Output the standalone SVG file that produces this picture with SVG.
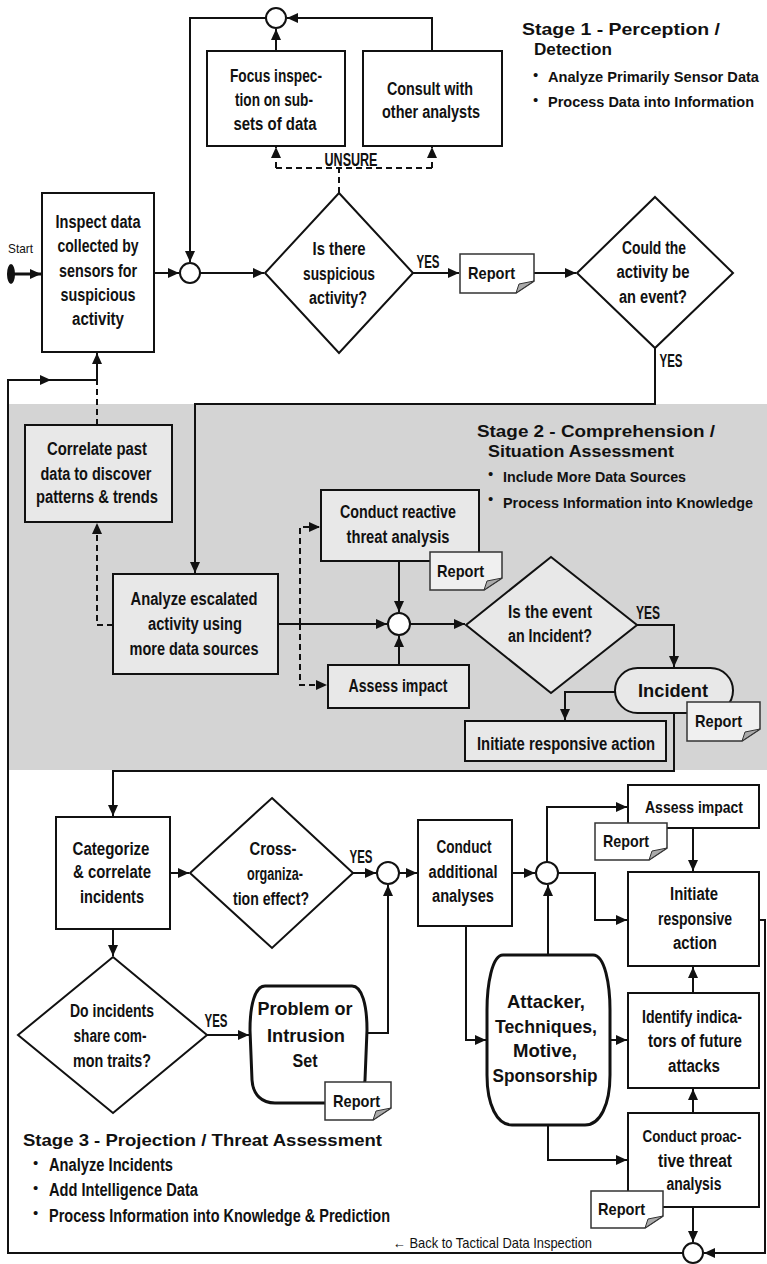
<svg xmlns="http://www.w3.org/2000/svg" width="767" height="1264" viewBox="0 0 767 1264">
<style>
.t{font-family:"Liberation Sans",Arial,sans-serif;font-size:18px;font-weight:bold;text-anchor:middle;fill:#111}
.tm{font-family:"Liberation Sans",Arial,sans-serif;font-size:16px;font-weight:bold;text-anchor:middle;fill:#111}
.ts{font-family:"Liberation Sans",Arial,sans-serif;font-size:18px;font-weight:bold;text-anchor:start;fill:#111}
.tn{font-family:"Liberation Sans",Arial,sans-serif;font-size:15px;font-weight:bold;text-anchor:start;fill:#111}
.tb{font-family:"Liberation Sans",Arial,sans-serif;font-size:19px;font-weight:bold;text-anchor:middle;fill:#111}
.h{font-family:"Liberation Sans",Arial,sans-serif;font-size:17px;font-weight:bold;text-anchor:start;fill:#111}
.r{font-family:"Liberation Sans",Arial,sans-serif;font-size:17px;font-weight:bold;text-anchor:start;fill:#111}
.bu{font-family:"Liberation Sans",Arial,sans-serif;font-size:15px;text-anchor:start;fill:#111}
.sm{font-family:"Liberation Sans",Arial,sans-serif;font-size:13px;text-anchor:start;fill:#111}
.bk{font-family:"Liberation Sans",Arial,sans-serif;font-size:15px;text-anchor:start;fill:#111}
.n{fill:#fff;stroke:#111;stroke-width:2}
.g{fill:#e8e8e8;stroke:#111;stroke-width:2}
.k{fill:#fff;stroke:#111;stroke-width:3}
.doc{fill:#fff;stroke:#333;stroke-width:1.5}
.docg{fill:#f0f0f0;stroke:#333;stroke-width:1.5}
.fold{fill:#aaa;stroke:#333;stroke-width:1}
.c{fill:none;stroke:#111;stroke-width:2}
.d{stroke-dasharray:6 4}
</style>
<defs>
<marker id="ah" viewBox="0 0 11 10" refX="11" refY="5" markerWidth="11" markerHeight="10" markerUnits="userSpaceOnUse" orient="auto">
<path d="M0,0 L11,5 L0,10 Z" fill="#111"/>
</marker>
</defs>

<rect x="9" y="404" width="758" height="366" fill="#d4d4d4"/>

<g id="connectors">
<ellipse cx="11" cy="274" rx="4" ry="10" fill="#111"/>
<path class="c" style="stroke-width:3" d="M13,274 H41" marker-end="url(#ah)"/>
<path class="c" d="M154,273 H179" marker-end="url(#ah)"/>
<path class="c" d="M200,273 H264" marker-end="url(#ah)"/>
<path class="c" d="M413,273 H459" marker-end="url(#ah)"/>
<path class="c" d="M534,273 H576" marker-end="url(#ah)"/>
<path class="c" d="M655,348 V404 H195 V573" marker-end="url(#ah)"/>
<path class="c d" d="M339,193 V168"/>
<path class="c d" d="M276,168 H432"/>
<path class="c d" d="M276,168 V147" marker-end="url(#ah)"/>
<path class="c d" d="M432,168 V147" marker-end="url(#ah)"/>
<path class="c" d="M276,51 V29" marker-end="url(#ah)"/>
<path class="c" d="M432,51 V18 H287" marker-end="url(#ah)"/>
<path class="c" d="M266,18 H190 V262" marker-end="url(#ah)"/>
<path class="c" d="M683,1253 H8 V380 H51" marker-end="url(#ah)"/>
<path class="c" d="M51,380 H97 V353" marker-end="url(#ah)"/>
<path class="c d" d="M97,425 V380"/>
<path class="c d" d="M113,625 H97 V523" marker-end="url(#ah)"/>
<path class="c" d="M278,624 H387" marker-end="url(#ah)"/>
<path class="c d" d="M300,624 V527 H320" marker-end="url(#ah)"/>
<path class="c d" d="M300,624 V685 H327" marker-end="url(#ah)"/>
<path class="c" d="M399,561 V612" marker-end="url(#ah)"/>
<path class="c" d="M399,665 V636" marker-end="url(#ah)"/>
<path class="c" d="M410,624 H465" marker-end="url(#ah)"/>
<path class="c" d="M637,625 H674 V667" marker-end="url(#ah)"/>
<path class="c" d="M615,692 H565 V720" marker-end="url(#ah)"/>
<path class="c" d="M674,713 V771 H113 V816" marker-end="url(#ah)"/>
<path class="c" d="M170,873 H189" marker-end="url(#ah)"/>
<path class="c" d="M353,873 H376" marker-end="url(#ah)"/>
<path class="c" d="M113,929 V956" marker-end="url(#ah)"/>
<path class="c" d="M207,1035 H249" marker-end="url(#ah)"/>
<path class="c" d="M366,1033 H388 V885" marker-end="url(#ah)"/>
<path class="c" d="M399,873 H417" marker-end="url(#ah)"/>
<path class="c" d="M512,873 H535" marker-end="url(#ah)"/>
<path class="c" d="M547,862 V807 H627" marker-end="url(#ah)"/>
<path class="c" d="M558,873 H595 V920 H627" marker-end="url(#ah)"/>
<path class="c" d="M693,828 V871" marker-end="url(#ah)"/>
<path class="c" d="M693,993 V967" marker-end="url(#ah)"/>
<path class="c" d="M693,1113 V1089" marker-end="url(#ah)"/>
<path class="c" d="M466,926 V1040 H486" marker-end="url(#ah)"/>
<path class="c" d="M548,955 V885" marker-end="url(#ah)"/>
<path class="c" d="M610,1040 H627" marker-end="url(#ah)"/>
<path class="c" d="M548,1125 V1160 H627" marker-end="url(#ah)"/>
<path class="c" d="M693,1207 V1242" marker-end="url(#ah)"/>
<path class="c" d="M759,920 H765 V1253 H704" marker-end="url(#ah)"/>
</g>

<g id="start"><text class="sm" x="8" y="253" textLength="25" lengthAdjust="spacingAndGlyphs">Start</text></g>

<g id="j1"><circle class="n" cx="276" cy="18" r="10"/></g>
<g id="j2"><circle class="n" cx="190" cy="273" r="10"/></g>
<g id="j3"><circle class="n" cx="399" cy="624" r="11"/></g>
<g id="j4"><circle class="n" cx="388" cy="873" r="11"/></g>
<g id="j5"><circle class="n" cx="547" cy="873" r="11"/></g>
<g id="j6"><circle class="n" cx="693" cy="1253" r="10"/></g>

<g id="focus"><rect class="n" x="207" y="51" width="138" height="95"/>
<text class="t" x="276" y="82" textLength="92" lengthAdjust="spacingAndGlyphs">Focus inspec-</text>
<text class="t" x="274" y="106" textLength="78" lengthAdjust="spacingAndGlyphs">tion on sub-</text>
<text class="t" x="275" y="130" textLength="83" lengthAdjust="spacingAndGlyphs">sets of data</text></g>

<g id="consult"><rect class="n" x="363" y="51" width="139" height="95"/>
<text class="t" x="430" y="95" textLength="86" lengthAdjust="spacingAndGlyphs">Consult with</text>
<text class="t" x="431" y="118" textLength="98" lengthAdjust="spacingAndGlyphs">other analysts</text></g>

<g id="unsure"><text class="t" x="351" y="166" textLength="53" lengthAdjust="spacingAndGlyphs">UNSURE</text></g>

<g id="stage1">
<text class="h" x="522" y="35" textLength="198" lengthAdjust="spacingAndGlyphs">Stage 1 -  Perception /</text>
<text class="h" x="534" y="55" textLength="78" lengthAdjust="spacingAndGlyphs">Detection</text>
<text class="bu" x="533" y="80">•</text>
<text class="tn" x="548" y="82" textLength="211" lengthAdjust="spacingAndGlyphs">Analyze Primarily Sensor Data</text>
<text class="bu" x="533" y="105">•</text>
<text class="tn" x="548" y="107" textLength="206" lengthAdjust="spacingAndGlyphs">Process Data into Information</text>
</g>

<g id="inspect"><rect class="n" x="42" y="193" width="112" height="159"/>
<text class="t" x="98" y="228" textLength="85" lengthAdjust="spacingAndGlyphs">Inspect data</text>
<text class="t" x="98" y="252" textLength="81" lengthAdjust="spacingAndGlyphs">collected by</text>
<text class="t" x="98" y="277" textLength="78" lengthAdjust="spacingAndGlyphs">sensors for</text>
<text class="t" x="98" y="301" textLength="75" lengthAdjust="spacingAndGlyphs">suspicious</text>
<text class="t" x="98" y="325" textLength="52" lengthAdjust="spacingAndGlyphs">activity</text></g>

<g id="dec1"><polygon class="n" points="339,193 413,273 339,353 265,273"/>
<text class="t" x="339" y="255" textLength="53" lengthAdjust="spacingAndGlyphs">Is there</text>
<text class="t" x="339" y="280" textLength="72" lengthAdjust="spacingAndGlyphs">suspicious</text>
<text class="t" x="338" y="304" textLength="58" lengthAdjust="spacingAndGlyphs">activity?</text>
<text class="t" x="428" y="268" textLength="23" lengthAdjust="spacingAndGlyphs">YES</text></g>

<g id="report1"><path class="doc" d="M460,254 H534 V281 L516,293 H460 Z"/><path class="fold" d="M534,281 L516,293 L519,284 Z"/>
<text class="r" x="468" y="279" textLength="47" lengthAdjust="spacingAndGlyphs">Report</text></g>

<g id="dec2"><polygon class="n" points="655,197 733,273 655,348 577,273"/>
<text class="t" x="654" y="254" textLength="64" lengthAdjust="spacingAndGlyphs">Could the</text>
<text class="t" x="653" y="278" textLength="73" lengthAdjust="spacingAndGlyphs">activity be</text>
<text class="t" x="653" y="303" textLength="68" lengthAdjust="spacingAndGlyphs">an event?</text>
<text class="t" x="671" y="367" textLength="23" lengthAdjust="spacingAndGlyphs">YES</text></g>

<g id="stage2">
<text class="h" x="477" y="437" textLength="238" lengthAdjust="spacingAndGlyphs">Stage 2 -  Comprehension /</text>
<text class="h" x="488" y="457" textLength="186" lengthAdjust="spacingAndGlyphs">Situation Assessment</text>
<text class="bu" x="488" y="479">•</text>
<text class="tn" x="503" y="482" textLength="183" lengthAdjust="spacingAndGlyphs">Include More Data Sources</text>
<text class="bu" x="488" y="504">•</text>
<text class="tn" x="503" y="508" textLength="250" lengthAdjust="spacingAndGlyphs">Process Information into Knowledge</text>
</g>

<g id="correlate"><rect class="g" x="25" y="425" width="147" height="97"/>
<text class="t" x="97" y="455" textLength="100" lengthAdjust="spacingAndGlyphs">Correlate past</text>
<text class="t" x="96" y="480" textLength="111" lengthAdjust="spacingAndGlyphs">data to discover</text>
<text class="t" x="97" y="503" textLength="122" lengthAdjust="spacingAndGlyphs">patterns &amp; trends</text></g>

<g id="analyze"><rect class="g" x="113" y="574" width="165" height="100"/>
<text class="t" x="194" y="605" textLength="127" lengthAdjust="spacingAndGlyphs">Analyze escalated</text>
<text class="t" x="195" y="630" textLength="94" lengthAdjust="spacingAndGlyphs">activity using</text>
<text class="t" x="194" y="655" textLength="129" lengthAdjust="spacingAndGlyphs">more data sources</text></g>

<g id="reactive"><rect class="g" x="321" y="490" width="158" height="71"/>
<text class="t" x="398" y="518" textLength="116" lengthAdjust="spacingAndGlyphs">Conduct reactive</text>
<text class="t" x="398" y="543" textLength="103" lengthAdjust="spacingAndGlyphs">threat analysis</text></g>

<g id="report2"><path class="docg" d="M430,552 H502 V578 L484,590 H430 Z"/><path class="fold" d="M502,578 L484,590 L487,581 Z"/>
<text class="r" x="437" y="577" textLength="47" lengthAdjust="spacingAndGlyphs">Report</text></g>

<g id="assess2"><rect class="g" x="328" y="665" width="141" height="43"/>
<text class="t" x="398" y="692" textLength="99" lengthAdjust="spacingAndGlyphs">Assess impact</text></g>

<g id="dec3"><polygon class="g" points="551,557 637,625 551,693 466,625"/>
<text class="t" x="550" y="618" textLength="84" lengthAdjust="spacingAndGlyphs">Is the event</text>
<text class="t" x="550" y="642" textLength="84" lengthAdjust="spacingAndGlyphs">an Incident?</text>
<text class="t" x="648" y="619" textLength="24" lengthAdjust="spacingAndGlyphs">YES</text></g>

<g id="incident"><rect class="g" x="615" y="668" width="118" height="45" rx="22.5" ry="22.5"/>
<text class="tb" x="673" y="697" textLength="70" lengthAdjust="spacingAndGlyphs">Incident</text></g>

<g id="report3"><path class="docg" d="M687,702 H760 V729 L742,741 H687 Z"/><path class="fold" d="M760,729 L742,741 L745,732 Z"/>
<text class="r" x="695" y="727" textLength="47" lengthAdjust="spacingAndGlyphs">Report</text></g>

<g id="initiate2"><rect class="g" x="465" y="721" width="201" height="40"/>
<text class="t" x="566" y="750" textLength="178" lengthAdjust="spacingAndGlyphs">Initiate responsive action</text></g>

<g id="categorize"><rect class="n" x="56" y="817" width="114" height="112"/>
<text class="t" x="111" y="855" textLength="77" lengthAdjust="spacingAndGlyphs">Categorize</text>
<text class="t" x="112" y="878" textLength="78" lengthAdjust="spacingAndGlyphs">&amp; correlate</text>
<text class="t" x="112" y="903" textLength="64" lengthAdjust="spacingAndGlyphs">incidents</text></g>

<g id="cross"><polygon class="n" points="272,798 353,873 272,948 190,873"/>
<text class="t" x="273" y="855" textLength="47" lengthAdjust="spacingAndGlyphs">Cross-</text>
<text class="t" x="275" y="880" textLength="56" lengthAdjust="spacingAndGlyphs">organiza-</text>
<text class="t" x="271" y="905" textLength="76" lengthAdjust="spacingAndGlyphs">tion effect?</text>
<text class="t" x="361" y="863" textLength="23" lengthAdjust="spacingAndGlyphs">YES</text></g>

<g id="traits"><polygon class="n" points="113,957 207,1035 113,1113 18,1035"/>
<text class="t" x="112" y="1017" textLength="84" lengthAdjust="spacingAndGlyphs">Do incidents</text>
<text class="t" x="110" y="1042" textLength="73" lengthAdjust="spacingAndGlyphs">share com-</text>
<text class="t" x="112" y="1067" textLength="78" lengthAdjust="spacingAndGlyphs">mon traits?</text>
<text class="t" x="216" y="1027" textLength="23" lengthAdjust="spacingAndGlyphs">YES</text></g>

<g id="problem"><path class="k" d="M265,986 H352 C362,986 367,1005 367,1030 L365,1080 C364,1095 355,1103 345,1103 H275 C262,1103 253,1095 252,1080 L250,1030 C250,1005 255,986 265,986 Z"/>
<text class="tb" x="305" y="1015" textLength="95" lengthAdjust="spacingAndGlyphs">Problem or</text>
<text class="tb" x="306" y="1042" textLength="78" lengthAdjust="spacingAndGlyphs">Intrusion</text>
<text class="tb" x="305" y="1067" textLength="25" lengthAdjust="spacingAndGlyphs">Set</text></g>

<g id="report4"><path class="doc" d="M325,1082 H391 V1108 L373,1120 H325 Z"/><path class="fold" d="M391,1108 L373,1120 L376,1111 Z"/>
<text class="r" x="333" y="1107" textLength="47" lengthAdjust="spacingAndGlyphs">Report</text></g>

<g id="stage3">
<text class="h" x="23" y="1146" textLength="359" lengthAdjust="spacingAndGlyphs">Stage 3 - Projection / Threat Assessment</text>
<text class="bu" x="33" y="1168">•</text>
<text class="ts" x="49" y="1171" textLength="124" lengthAdjust="spacingAndGlyphs">Analyze Incidents</text>
<text class="bu" x="33" y="1193">•</text>
<text class="ts" x="49" y="1196" textLength="149" lengthAdjust="spacingAndGlyphs">Add Intelligence Data</text>
<text class="bu" x="33" y="1218">•</text>
<text class="ts" x="49" y="1222" textLength="341" lengthAdjust="spacingAndGlyphs">Process Information into Knowledge &amp; Prediction</text>
</g>

<g id="additional"><rect class="n" x="418" y="820" width="94" height="106"/>
<text class="t" x="464" y="853" textLength="55" lengthAdjust="spacingAndGlyphs">Conduct</text>
<text class="t" x="463" y="878" textLength="69" lengthAdjust="spacingAndGlyphs">additional</text>
<text class="t" x="463" y="902" textLength="62" lengthAdjust="spacingAndGlyphs">analyses</text></g>

<g id="assess3"><rect class="n" x="628" y="785" width="131" height="43"/>
<text class="tm" x="694" y="813" textLength="98" lengthAdjust="spacingAndGlyphs">Assess impact</text></g>

<g id="report5"><path class="doc" d="M595,823 H667 V848 L649,860 H595 Z"/><path class="fold" d="M667,848 L649,860 L652,851 Z"/>
<text class="r" x="603" y="847" textLength="46" lengthAdjust="spacingAndGlyphs">Report</text></g>

<g id="initiate3"><rect class="n" x="628" y="872" width="131" height="94"/>
<text class="t" x="694" y="900" textLength="48" lengthAdjust="spacingAndGlyphs">Initiate</text>
<text class="t" x="695" y="925" textLength="74" lengthAdjust="spacingAndGlyphs">responsive</text>
<text class="t" x="695" y="949" textLength="44" lengthAdjust="spacingAndGlyphs">action</text></g>

<g id="attacker"><path class="k" d="M503,955 H593 C605,955 610,985 610,1010 V1075 C610,1105 600,1125 585,1125 H512 C497,1125 487,1105 487,1075 V1010 C487,985 492,955 503,955 Z"/>
<text class="tb" x="546" y="1008" textLength="78" lengthAdjust="spacingAndGlyphs">Attacker,</text>
<text class="tb" x="546" y="1033" textLength="102" lengthAdjust="spacingAndGlyphs">Techniques,</text>
<text class="tb" x="545" y="1057" textLength="64" lengthAdjust="spacingAndGlyphs">Motive,</text>
<text class="tb" x="545" y="1082" textLength="105" lengthAdjust="spacingAndGlyphs">Sponsorship</text></g>

<g id="identify"><rect class="n" x="628" y="993" width="131" height="95"/>
<text class="t" x="692" y="1023" textLength="100" lengthAdjust="spacingAndGlyphs">Identify indica-</text>
<text class="t" x="695" y="1047" textLength="94" lengthAdjust="spacingAndGlyphs">tors of future</text>
<text class="t" x="694" y="1072" textLength="52" lengthAdjust="spacingAndGlyphs">attacks</text></g>

<g id="proactive"><rect class="n" x="628" y="1113" width="131" height="94"/>
<text class="tm" x="692" y="1142" textLength="99" lengthAdjust="spacingAndGlyphs">Conduct proac-</text>
<text class="t" x="695" y="1167" textLength="74" lengthAdjust="spacingAndGlyphs">tive threat</text>
<text class="t" x="694" y="1190" textLength="55" lengthAdjust="spacingAndGlyphs">analysis</text></g>

<g id="report6"><path class="doc" d="M591,1191 H663 V1216 L645,1228 H591 Z"/><path class="fold" d="M663,1216 L645,1228 L648,1219 Z"/>
<text class="r" x="598" y="1215" textLength="47" lengthAdjust="spacingAndGlyphs">Report</text></g>

<g id="back"><text class="bk" x="393" y="1248" textLength="199" lengthAdjust="spacingAndGlyphs">← Back to Tactical Data Inspection</text></g>
</svg>
